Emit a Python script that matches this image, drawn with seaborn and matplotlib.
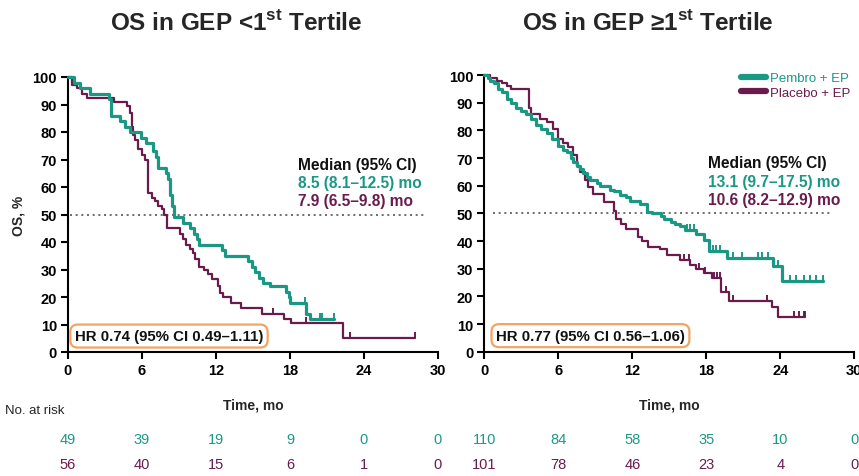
import numpy as np
import pandas as pd
import matplotlib
matplotlib.use("Agg")
import matplotlib.pyplot as plt
import matplotlib.transforms as mtransforms
from matplotlib.path import Path
from matplotlib.lines import Line2D
from matplotlib import font_manager
import seaborn as sns

# ---------------- data ----------------
arms = ["Pembro + EP", "Placebo + EP"]
month_ticks = [0, 6, 12, 18, 24, 30]
pct_ticks = [0, 10, 20, 30, 40, 50, 60, 70, 80, 90, 100]

titles = [r"OS in GEP <1$^{\mathbf{st}}$ Tertile", r"OS in GEP ≥1$^{\mathbf{st}}$ Tertile"]
medians_low = ["Median (95% CI)", "8.5 (8.1–12.5) mo", "7.9 (6.5–9.8) mo"]
medians_high = ["Median (95% CI)", "13.1 (9.7–17.5) mo", "10.6 (8.2–12.9) mo"]
hr_low = "HR 0.74 (95% CI 0.49–1.11)"
hr_high = "HR 0.77 (95% CI 0.56–1.06)"

# GEP < 1st tertile: step breakpoints (month, OS %)
low_pembro_t = [0, 0.5, 0.95, 1.75, 3.35, 3.5, 4.25, 4.6, 5.0, 5.95, 6.35, 6.9, 7.1, 7.3,
                7.95, 8.1, 8.3, 8.45, 8.6, 9.3, 9.9, 10.2, 10.45, 10.6, 12.5, 12.75, 14.6,
                14.9, 15.2, 15.45, 15.85, 16.4, 17.7, 17.9, 18.0, 19.3, 19.6, 21.6]
low_pembro_s = [100, 98, 96, 94, 92, 86, 84, 82, 80, 78, 76, 73, 71, 67,
                65, 63, 57, 53, 49, 47, 45, 43, 41, 39, 37, 35, 33,
                31, 29, 27, 25, 24, 22, 20, 18, 14, 12, 12]
low_pembro_cens = [19.2, 20.4, 20.6, 21.6]

low_placebo_t = [0, 0.3, 0.7, 1.1, 1.5, 3.75, 4.75, 5.0, 5.15, 5.3, 5.45, 5.7, 6.0, 6.25,
                 6.45, 6.5, 6.8, 7.05, 7.3, 7.6, 7.75, 8.0, 9.05, 9.3, 9.6, 9.9, 10.15,
                 10.3, 10.6, 11.0, 11.35, 11.65, 12.2, 12.3, 12.6, 13.2, 14.0, 15.7, 17.5,
                 18.1, 22.3, 28.1]
low_placebo_s = [100, 97, 96, 94, 92.5, 91, 89.5, 87, 82, 79, 77, 74, 71.5, 70,
                 68, 58, 56, 55, 53, 52, 50, 45, 43, 41, 39, 37.5, 36,
                 34, 31, 30, 28.5, 26.5, 24, 21.5, 20, 18, 16, 14, 12,
                 10.5, 5, 5]
low_placebo_cens = [16.6, 19.3, 22.9, 28.1]

# GEP >= 1st tertile
high_pembro_t = [0, 0.3, 0.5, 0.8, 1.1, 1.4, 1.8, 2.2, 2.6, 3.0, 3.4, 3.8, 4.2, 4.6, 5.05,
                 5.5, 6.0, 6.4, 6.7, 7.0, 7.2, 7.5, 7.75, 8.0, 8.3, 8.6, 9.1, 9.4, 10.2,
                 10.5, 11.0, 11.5, 11.8, 12.6, 13.2, 13.6, 14.3, 14.6, 15.1, 15.5, 15.9,
                 16.3, 17.2, 17.8, 18.2, 19.65, 23.4, 24.1, 27.5]
high_pembro_s = [100, 99, 98, 97, 95, 94, 91.5, 90, 88, 87, 86, 84, 82, 80.5, 79,
                 77, 74.5, 73, 72, 70, 68.5, 67, 66, 64.5, 63, 62, 61, 60, 58.5,
                 58, 56.5, 56, 54.5, 53.5, 50.5, 50, 49, 48, 47, 46, 45.5,
                 44, 42.5, 40.5, 36.5, 34, 31, 25.7, 25.7]
high_pembro_cens = [16.4, 16.7, 17.0, 18.3, 18.55, 18.8, 19.1, 20.2, 20.9, 22.2, 22.5,
                    23.0, 23.8, 24.8, 25.3, 25.9, 26.4, 26.9, 27.5]

high_placebo_t = [0, 0.45, 1.0, 1.4, 1.8, 2.2, 3.65, 3.75, 4.5, 5.05, 5.6, 6.0, 6.4, 6.8,
                  7.2, 7.5, 7.75, 8.2, 8.4, 8.8, 9.7, 10.5, 10.7, 11.1, 11.5, 12.5, 12.8,
                  13.3, 14.25, 14.8, 15.9, 16.7, 17.2, 17.8, 18.5, 19.2, 19.8, 23.3, 23.8,
                  26.0]
high_placebo_s = [100, 99, 98, 97, 96, 95, 88, 86, 84, 83, 80.5, 77, 75.5, 74,
                  71, 67, 65, 62, 59.5, 57, 54, 51, 48, 46, 44.5, 41.5, 40,
                  38, 37, 35, 33, 31.5, 30, 28.5, 26.5, 21.5, 18.5, 16, 12.4,
                  12.4]
high_placebo_cens = [16.2, 16.6, 17.4, 17.9, 18.6, 18.9, 19.1, 19.6, 20.2, 22.9,
                     25.1, 25.5, 25.9, 26.0]

low_risk_pembro = [49, 39, 19, 9, 0, 0]
low_risk_placebo = [56, 40, 15, 6, 1, 0]
high_risk_pembro = [110, 84, 58, 35, 10, 0]
high_risk_placebo = [101, 78, 46, 23, 4, 0]

# ---------------- style ----------------
TEAL = "#1B9884"
MAROON = "#6A1B4D"
BOX_EDGE = "#F0A566"
DOT = "#555555"


def pick_font(names):
    for n in names:
        try:
            font_manager.findfont(n, fallback_to_default=False)
            return n
        except ValueError:
            continue
    return "DejaVu Sans"


sns.set_theme(style="ticks")
BASE = pick_font(["Liberation Sans", "Arial"])
NARROW = pick_font(["Liberation Sans Narrow", "Liberation Sans"])
plt.rcParams["font.family"] = [BASE, "DejaVu Sans"]
plt.rcParams["mathtext.fontset"] = "custom"
plt.rcParams["mathtext.bf"] = f"{BASE}:bold"
plt.rcParams["mathtext.rm"] = BASE

UP_TICK = Path([(0, 0), (0, 1)], [Path.MOVETO, Path.LINETO])


def step_value(t, s, x):
    t = np.asarray(t)
    s = np.asarray(s)
    idx = np.searchsorted(t, x, side="right") - 1
    return s[np.clip(idx, 0, len(s) - 1)]


def draw_arm(ax, t, s, cens, color, lw):
    df = pd.DataFrame({"month": t, "os": s})
    sns.lineplot(data=df, x="month", y="os", ax=ax, color=color, lw=lw,
                 drawstyle="steps-post", estimator=None, sort=False,
                 legend=False, clip_on=False, zorder=3)
    cy = step_value(t, s, np.asarray(cens))
    ax.plot(cens, cy, ls="none", marker=UP_TICK, ms=9, mew=1.4,
            color=color, clip_on=False, zorder=3)


fig = plt.figure(figsize=(8.59, 4.77), dpi=100)
W, H = 859.0, 477.0
ax_l = fig.add_axes([68 / W, 1 - 353 / H, 370 / W, 275 / H])
ax_r = fig.add_axes([484.3 / W, 1 - 352.7 / H, 370 / W, 276.7 / H])

panels = [
    (ax_l, (low_pembro_t, low_pembro_s, low_pembro_cens),
     (low_placebo_t, low_placebo_s, low_placebo_cens), medians_low, hr_low,
     (low_risk_pembro, low_risk_placebo), (0.2, 29.1), 18.65, 0.55),
    (ax_r, (high_pembro_t, high_pembro_s, high_pembro_cens),
     (high_placebo_t, high_placebo_s, high_placebo_cens), medians_high, hr_high,
     (high_risk_pembro, high_risk_placebo), (0.7, 28.2), 18.1, 0.95),
]

for i, (ax, pem, pla, med, hr, risk, dot_rng, med_x, hr_x) in enumerate(panels):
    ax.set_facecolor("white")
    ax.plot(list(dot_rng), [50, 50], ls=(0, (1.2, 2.2)), color=DOT, lw=1.2, zorder=1)
    draw_arm(ax, *pla, MAROON, 1.6)
    draw_arm(ax, *pem, TEAL, 2.3)

    ax.set_xlim(0, 30)
    ax.set_ylim(0, 100)
    ax.set_xticks(month_ticks)
    ax.set_yticks(pct_ticks)
    ax.tick_params(axis="both", direction="out", length=5, width=1.5,
                   labelsize=10.5, pad=3, colors="black")
    for lab in ax.get_xticklabels() + ax.get_yticklabels():
        lab.set_fontweight("bold")
    for side in ("top", "right"):
        ax.spines[side].set_visible(False)
    for side in ("left", "bottom"):
        ax.spines[side].set_linewidth(1.5)
        ax.spines[side].set_color("black")

    ax.set_xlabel("Time, mo", fontsize=10, fontweight="bold")
    ax.xaxis.set_label_coords(0.5, -0.165)
    if i == 0:
        ax.set_ylabel("OS, %", fontsize=10, fontweight="bold")
        ax.yaxis.set_label_coords(-0.115, 0.5)
    else:
        ax.set_ylabel("")

    # median annotation
    for txt, y, c in zip(med, [68.2, 61.5, 55.0], ["#111111", TEAL, MAROON]):
        ax.text(med_x, y, txt, color=c, fontsize=11.2, fontweight="bold",
                ha="left", va="center")

    # hazard ratio box
    ax.text(hr_x, 5.8, hr, fontsize=10.8, fontweight="bold", ha="left", va="center",
            color="#111111",
            bbox=dict(boxstyle="round,pad=0.3,rounding_size=0.5", fc="white",
                      ec=BOX_EDGE, lw=1.6), zorder=5)

    # numbers at risk
    trans = mtransforms.blended_transform_factory(ax.transData, fig.transFigure)
    for row, c, yy in zip(risk, [TEAL, MAROON], [1 - 440 / H, 1 - 465 / H]):
        for m, n in zip(month_ticks, row):
            fig.text(m, yy, str(n), transform=trans, color=c, fontsize=10.5,
                     family=[NARROW, "DejaVu Sans"], ha="center", va="center")

# legend in the right panel
handles = [Line2D([0], [0], color=TEAL, lw=4.5), Line2D([0], [0], color=MAROON, lw=4.5)]
leg = ax_r.legend(handles, arms, loc="upper right", bbox_to_anchor=(1.005, 1.03),
                  frameon=False, fontsize=9.5, handlelength=1.9, handletextpad=0.35,
                  labelspacing=0.2, borderaxespad=0.0)
for txt, c in zip(leg.get_texts(), [TEAL, MAROON]):
    txt.set_color(c)

# panel titles
fig.text(236 / W, 1 - 23 / H, titles[0], ha="center", va="center",
         fontsize=17.5, fontweight="bold")
fig.text(648 / W, 1 - 23 / H, titles[1], ha="center", va="center",
         fontsize=17.5, fontweight="bold")

fig.text(5 / W, 1 - 411 / H, "No. at risk", ha="left", va="center", fontsize=9.5,
         family=[NARROW, "DejaVu Sans"])

fig.savefig("out.png", dpi=100, facecolor="white")
